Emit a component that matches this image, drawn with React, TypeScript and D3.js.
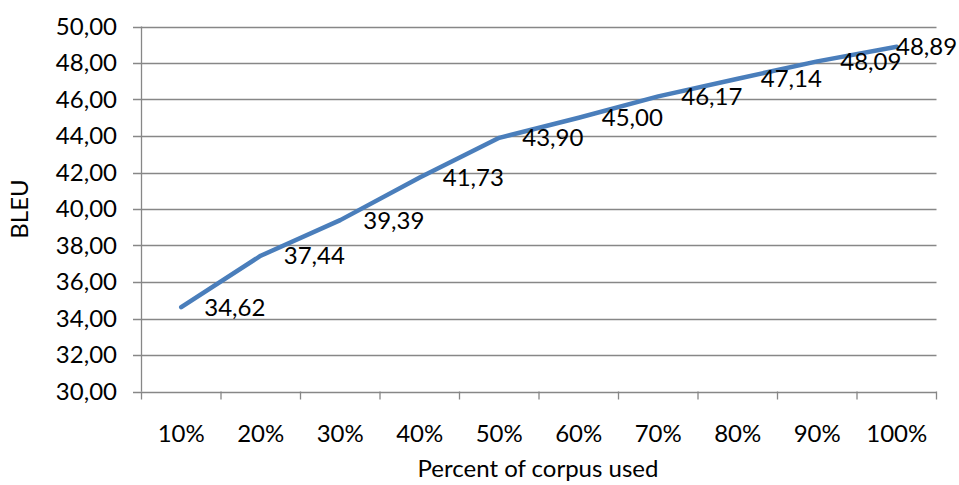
import React from "react";
import * as d3 from "d3";

const categories = ["10%", "20%", "30%", "40%", "50%", "60%", "70%", "80%", "90%", "100%"];
const bleu = [34.62, 37.44, 39.39, 41.73, 43.9, 45.0, 46.17, 47.14, 48.09, 48.89];
const yTicks = [30, 32, 34, 36, 38, 40, 42, 44, 46, 48, 50];
const xTitle = "Percent of corpus used";
const yTitle = "BLEU";

const W = 959;
const H = 485;
const FONT = "Lato, 'Open Sans', sans-serif";
const fmt = (v: number) => v.toFixed(2).replace(".", ",");

export default function App() {
  const left = 141.5;
  const right = 936.5;
  const top = 26.5;
  const bottom = 391.5;
  const x = d3.scaleBand<string>().domain(categories).range([left, right]).padding(0);
  const y = d3.scaleLinear().domain([30, 50]).range([bottom, top]);
  const cx = (c: string) => (x(c) as number) + x.bandwidth() / 2;
  const line = d3
    .line<number>()
    .x((_, i) => cx(categories[i]))
    .y((d) => y(d));
  const labelW = 60;
  const fs = 24;
  return (
    <svg width={W} height={H} style={{ position: "absolute", left: 0, top: 0, background: "#fff" }}>
      {yTicks.map((t) => (
        <g key={t}>
          <line x1={left - 8.5} x2={right} y1={Math.round(y(t)) + 0.5} y2={Math.round(y(t)) + 0.5} stroke="#878787" strokeWidth={1.3} />
          <text x={117} y={y(t)} dy="0.35em" textAnchor="end" fontFamily={FONT} fontSize={fs} fill="#000">
            {fmt(t)}
          </text>
        </g>
      ))}
      <line x1={left} x2={left} y1={top} y2={bottom} stroke="#878787" strokeWidth={1.3} />
      {categories.concat(["end"]).map((c, i) => {
        const xx = left + i * x.bandwidth();
        return <line key={c} x1={xx} x2={xx} y1={bottom} y2={bottom + 8} stroke="#878787" strokeWidth={1.3} />;
      })}
      {categories.map((c) => (
        <text key={c} x={cx(c)} y={434} dy="0.35em" textAnchor="middle" fontFamily={FONT} fontSize={fs} fill="#000">
          {c}
        </text>
      ))}
      <path d={line(bleu) || ""} fill="none" stroke="#4a7ebb" strokeWidth={4.5} strokeLinejoin="round" strokeLinecap="round" />
      {bleu.map((v, i) => {
        const px = cx(categories[i]);
        const lx = Math.min(px + 23, W - 3 - labelW);
        return (
          <text key={i} x={lx} y={y(v)} dy="0.35em" fontFamily={FONT} fontSize={fs} fill="#000">
            {fmt(v)}
          </text>
        );
      })}
      <text x={538} y={469} dy="0.35em" textAnchor="middle" fontFamily={FONT} fontSize={fs} fill="#000">
        {xTitle}
      </text>
      <text transform={`translate(20,${(top + bottom) / 2}) rotate(-90)`} dy="0.35em" textAnchor="middle" fontFamily={FONT} fontSize={fs} fill="#000">
        {yTitle}
      </text>
    </svg>
  );
}
